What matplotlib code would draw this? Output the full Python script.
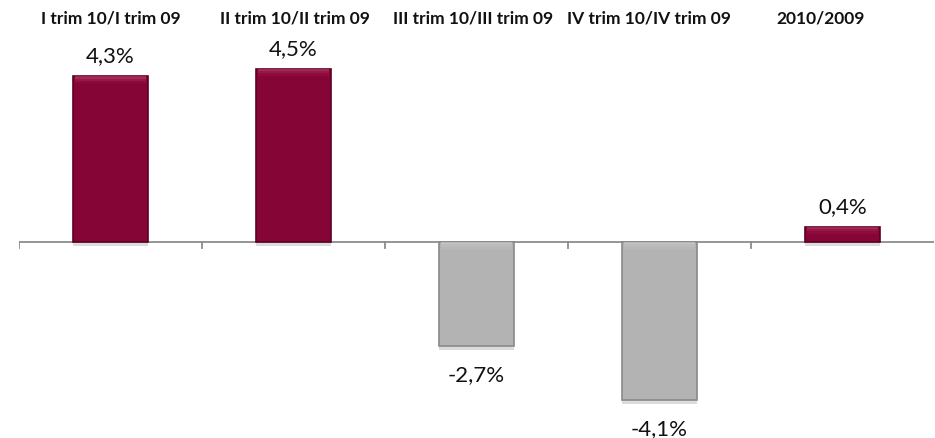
import numpy as np
import matplotlib
matplotlib.use("Agg")
import matplotlib.pyplot as plt
import matplotlib.patheffects as pe

categories = ["I trim 10/I trim 09", "II trim 10/II trim 09", "III trim 10/III trim 09",
              "IV trim 10/IV trim 09", "2010/2009"]
values = [4.3, 4.5, -2.7, -4.1, 0.4]
value_labels = ["4,3%", "4,5%", "-2,7%", "-4,1%", "0,4%"]
# label centres measured in category units (slightly off-centre in the original)
label_x = [0.0, 0.01, -0.02, -0.06, -0.12]

pos_color = "#860537"
neg_color = "#B3B3B3"

fig = plt.figure(figsize=(9.35, 4.38), dpi=100)
ax = fig.add_axes([19 / 935, 0, 915 / 935, 1])
ax.set_xlim(-0.5, len(values) - 0.5)
ax.set_ylim(-(438 - 242) / 38.5, 242 / 38.5)
ax.axis("off")

x = np.arange(len(values))
width = 0.41
colors = [pos_color if v >= 0 else neg_color for v in values]
edges = ["#5e0026" if v >= 0 else "#8a8a8a" for v in values]

bars = ax.bar(x, values, width, color=colors, edgecolor=edges, linewidth=1.2, zorder=3)
for b in bars:
    b.set_path_effects([pe.SimplePatchShadow(offset=(0, -3), shadow_rgbFace="#999999", alpha=0.35),
                        pe.Normal()])

# top bevel highlight (soft)
for xi, v in zip(x, values):
    hl = "#c0466f" if v >= 0 else "#d2d2d2"
    top = max(v, 0)
    for k, a in enumerate([0.55, 0.3, 0.12]):
        ax.bar(xi, -0.06, width * 0.94, bottom=top - 0.06 * k, color=hl,
               linewidth=0, zorder=4, alpha=a)

# zero axis and category ticks
ax.axhline(0, color="#8c8c8c", linewidth=1.3, zorder=2)
for t in np.arange(len(values)) - 0.5:
    ax.plot([t, t], [0, -0.16], color="#8c8c8c", linewidth=1.3, zorder=2)

fam = ["Lato", "DejaVu Sans"]
for xi, v, lab in zip(x, values, value_labels):
    if v >= 0:
        ax.annotate(lab, (xi, v), xytext=(0, 20), textcoords="offset pixels",
                    ha="center", va="center", fontsize=16, family=fam, color="#111111")
    else:
        ax.annotate(lab, (xi, v), xytext=(0, -29), textcoords="offset pixels",
                    ha="center", va="center", fontsize=16, family=fam, color="#111111")

for xi, dx, cat in zip(x, label_x, categories):
    ax.text(xi + dx, 1 - 18 / 438, cat, transform=ax.get_xaxis_transform(),
            ha="center", va="center", fontsize=12.5, fontweight="bold", family=fam, color="#111111")

fig.savefig("out.png", dpi=100, facecolor="white")
